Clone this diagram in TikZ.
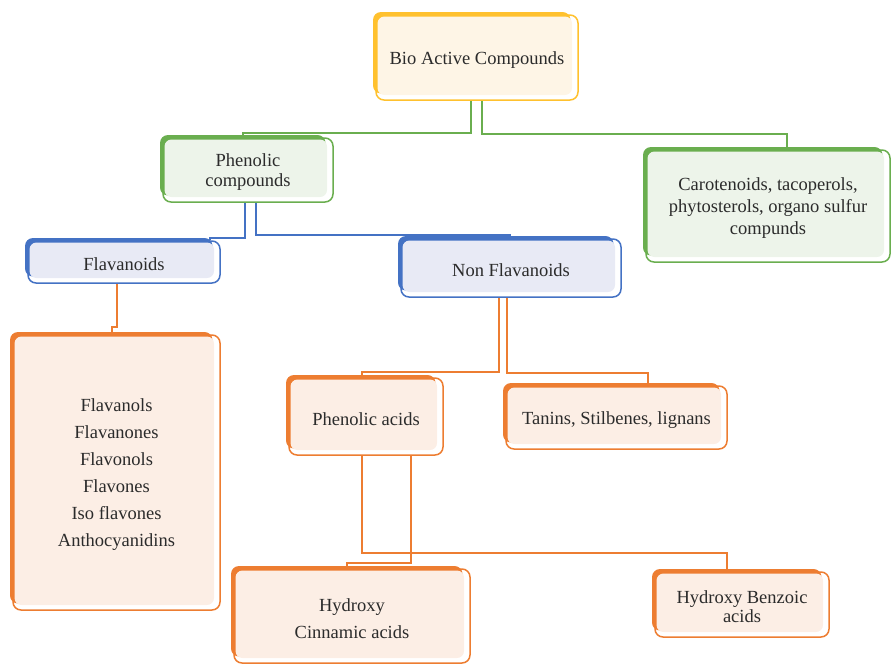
\documentclass[tikz,border=0pt]{standalone}
\usepackage{fontspec}
\setmainfont{Liberation Serif}
\usetikzlibrary{backgrounds}
\definecolor{gld}{HTML}{FFC12E}
\definecolor{gldf}{HTML}{FEF5E6}
\definecolor{grn}{HTML}{6AAE4F}
\definecolor{grnf}{HTML}{EDF4EA}
\definecolor{blu}{HTML}{4472C4}
\definecolor{bluf}{HTML}{E8EAF5}
\definecolor{org}{HTML}{ED7D31}
\definecolor{orgf}{HTML}{FCEEE5}
\definecolor{txt}{HTML}{2B2B2B}
\tikzset{
  frontbox/.style={draw=#1, line width=1.5pt, rounded corners=8pt, inner sep=0pt},
  boxtext/.style={align=center, text=txt, inner sep=0pt},
  conn/.style={draw=#1, line width=1.4pt}
}
\newcommand\bx[9]{%
  \fill[#6, rounded corners=8pt] (#2,#3) rectangle ({#4-7.5},{#5-6.5});
  \fill[#7, rounded corners=7pt] ({#2+4.5},{#3+4.5}) rectangle ({#4-6},{#5-5});
  \pgfmathsetmacro\bw{#4-#2-3}\pgfmathsetmacro\bh{#5-#3-3}%
  \pgfmathsetmacro\bcx{(#2+3+#4)/2}\pgfmathsetmacro\bcy{(#3+3+#5)/2}%
  \node[frontbox=#6, minimum width=\bw pt, minimum height=\bh pt] (#1) at (\bcx,\bcy) {};
  \node[boxtext, font=\fontsize{18.5}{#8}\selectfont] (#1-t) at (\bcx,\bcy+2.5) {#9};}
\begin{document}
\begin{tikzpicture}[x=1pt,y=-1pt]
\useasboundingbox (0,0) rectangle (893,664);
\bx{bio}{373}{12}{578}{100}{gld}{gldf}{22}{Bio Active Compounds}
\bx{phen}{160}{135}{333}{202}{grn}{grnf}{20}{Phenolic\\compounds}
\bx{caro}{643}{147}{890}{262}{grn}{grnf}{22}{Carotenoids, tacoperols,\\phytosterols, organo sulfur\\compunds}
\bx{flav}{25}{238}{220}{283}{blu}{bluf}{22}{Flavanoids}
\bx{nonflav}{398}{236}{621}{297}{blu}{bluf}{22}{Non Flavanoids}
\bx{flavlist}{10}{332}{220}{610}{org}{orgf}{27}{Flavanols\\Flavanones\\Flavonols\\Flavones\\Iso flavones\\Anthocyanidins}
\bx{phacid}{286}{375}{443}{455}{org}{orgf}{22}{Phenolic acids}
\bx{tanin}{503}{383}{727}{449}{org}{orgf}{22}{Tanins, Stilbenes, lignans}
\bx{hcin}{231}{566}{470}{663}{org}{orgf}{27}{Hydroxy\\Cinnamic acids}
\bx{hben}{652}{569}{829}{637}{org}{orgf}{19}{Hydroxy Benzoic\\acids}
\begin{scope}[on background layer]
\draw[conn=grn] (471,0 |- bio.south) |- (243,133) -- (243,0 |- phen.north);
\draw[conn=grn] (482,0 |- bio.south) |- (787,134) -- (787,0 |- caro.north);
\draw[conn=blu] (245,0 |- phen.south) |- (210,238) -- (210,0 |- flav.north);
\draw[conn=blu] (256,0 |- phen.south) |- (510,235) -- (510,0 |- nonflav.north);
\draw[conn=org] (117,0 |- flav.south) |- (112,327) -- (112,0 |- flavlist.north);
\draw[conn=org] (499,0 |- nonflav.south) |- (362,372) -- (362,0 |- phacid.north);
\draw[conn=org] (507,0 |- nonflav.south) |- (648,373) -- (648,0 |- tanin.north);
\draw[conn=org] (362,0 |- phacid.south) |- (727,553) -- (727,0 |- hben.north);
\draw[conn=org] (411,0 |- phacid.south) |- (347,563) -- (347,0 |- hcin.north);
\end{scope}
\end{tikzpicture}
\end{document}
